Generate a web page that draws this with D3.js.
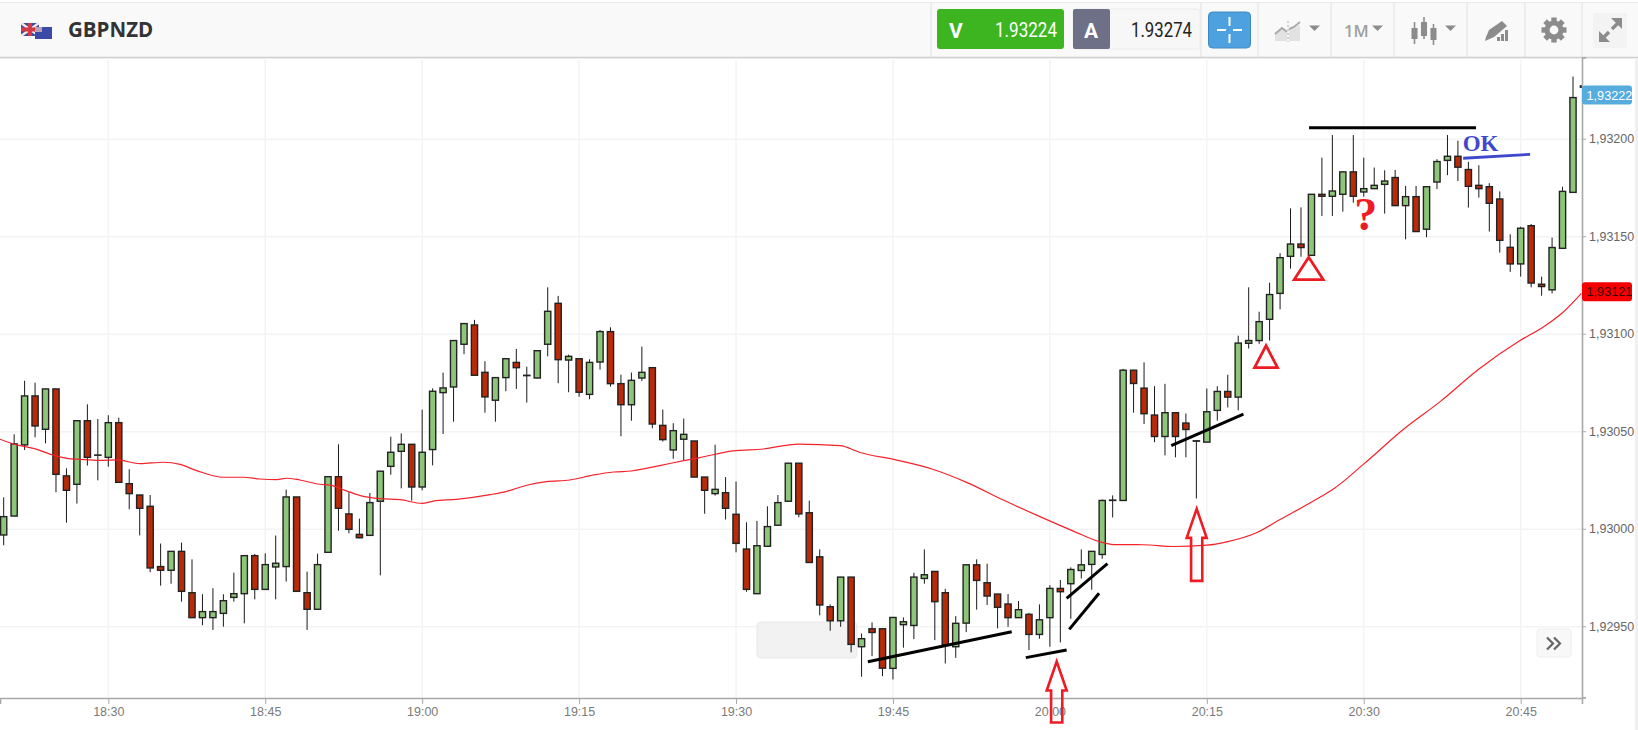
<!DOCTYPE html>
<html>
<head>
<meta charset="utf-8">
<title>GBPNZD</title>
<script src="https://cdn.jsdelivr.net/npm/d3@7"></script>
<style>
    html, body { margin: 0; padding: 0; background: #fff; overflow: hidden; }
    svg { display: block; }
    .axis text { font-family: "Liberation Sans", Arial, sans-serif; font-size: 12.5px; }
    .axis path, .axis line { stroke: #a8a8a8; }
    .axis path { stroke-width: 1.6px; }
    .grid line { stroke: #f3f3f3; stroke-width: 1.4px; }
</style>
</head>
<body>
<div id="chart_parent"></div>
<script>
// prices are in pipettes above 1.00000, so 93200 reads as 1,93200
// one candle per minute, first one is ten minutes before 18:30
const firstMinute = -10;

const opens = [
    92997.1, 93006.8, 93043.3, 93068.4, 93051.3, 93072, 93027.4, 93023.1, 93055.7, 93038,
    93036.9, 93054.7, 93023.4, 93017.6, 93011.8, 92980.9, 92979, 92988.7, 92967.5, 92954.7,
    92954.7, 92956.9, 92965.1, 92967, 92986.5, 92969.2, 92980.7, 92980.9, 93016.6, 92967.5,
    92959, 92988.2, 93027, 93007.9, 92997.4, 92996.9, 93014.4, 93032.3, 93040, 93043.6,
    93021.7, 93040.9, 93070.1, 93073, 93094.9, 93104.8, 93080.5, 93066.2, 93077.8, 93085.6,
    93078.8, 93077.6, 93094.9, 93115.9, 93086.8, 93087.5, 93069.2, 93085.8, 93101.4, 93074.7,
    93063.9, 93077.6, 93082.9, 93053.3, 93040.7, 93046.2, 93045.3, 93026.8, 93018.3, 93018.8,
    93007.7, 92989.9, 92967, 92991.3, 93002.1, 93014.4, 93033.9, 93008.5, 92985.9, 92960.3,
    92953.1, 92975.5, 92939.8, 92949, 92949, 92928.7, 92951.1, 92950.7, 92974.8, 92978.4,
    92967.5, 92939.8, 92951.9, 92981.8, 92972.6, 92966.8, 92961.7, 92954.7, 92956.4, 92946.1,
    92954.7, 92969.7, 92972.1, 92978.9, 92982, 92987.1, 93014.8, 93014.8, 93081.6, 93072.4,
    93058.6, 93047.6, 93059.8, 93054.5, 93045.2, 93044.7, 93061, 93070.7, 93067.8, 93095.4,
    93096.8, 93107.7, 93121, 93140, 93146.3, 93140.5, 93171.8, 93170.8, 93171.8, 93183.3,
    93173, 93174.7, 93176.9, 93180.4, 93166, 93170.6, 93153.9, 93178.1, 93189.2, 93191.3,
    93184.5, 93176.4, 93175.7, 93169.4, 93144.6, 93136.1, 93155.7, 93125.7, 93122.8, 93144.1,
    93172.8, 93226.7,
];

const closes = [
    93006.5, 93043.8, 93068.4, 93053, 93072, 93028.2, 93020, 93055.7, 93036.9, 93038.1,
    93054.7, 93024.1, 93018.3, 93010.8, 92980.2, 92979, 92988.7, 92968.2, 92954.7, 92957.8,
    92957.8, 92963.4, 92967, 92986.5, 92969.2, 92981.9, 92982.6, 93016.6, 92968.2, 92959,
    92981.9, 93027, 93010.8, 93000, 92995.7, 93013.7, 93029.8, 93039.5, 93043.6, 93021.7,
    93039.5, 93070.8, 93072.5, 93096.8, 93105.5, 93079, 93067.9, 93077.8, 93087.5, 93082.9,
    93079, 93091.6, 93111.8, 93087, 93088.7, 93070.3, 93085.6, 93101.4, 93074.7, 93063.9,
    93076.4, 93080.5, 93054, 93046, 93050.6, 93048.7, 93026.8, 93020, 93020.5, 93010.8,
    92992.8, 92969.2, 92991.6, 93001.4, 93013.7, 93033.9, 93007.9, 92983, 92961.2, 92953.1,
    92975.5, 92941, 92943.9, 92947.1, 92928.8, 92954.8, 92952.6, 92975.5, 92976.7, 92962.9,
    92940.6, 92951.8, 92981.8, 92973.8, 92965.8, 92960, 92954.7, 92958.8, 92946.1, 92953.6,
    92969.7, 92968, 92979.4, 92981.8, 92988.7, 93014.8, 93015, 93081.6, 93074.8, 93059.3,
    93047.6, 93059.8, 93047.6, 93051.2, 93045.4, 93060.3, 93070.7, 93067.8, 93095.5, 93096.8,
    93106.5, 93120.4, 93139.3, 93146.3, 93144.5, 93171.8, 93170.8, 93173.5, 93183.3, 93170.8,
    93174.7, 93176.4, 93178.6, 93166, 93170.6, 93152.7, 93175.7, 93188.6, 93191.3, 93185.7,
    93175.9, 93174.7, 93167.2, 93148.2, 93136.1, 93154.4, 93126.3, 93124.5, 93144.5, 93173.3,
    93221.4, 93227.4,
];

const highs = [
    93016.4, 93048.7, 93076.2, 93075.2, 93072, 93072, 93031.3, 93055.7, 93064.1, 93056.6,
    93058.5, 93057.3, 93030.8, 93017.6, 93017.6, 92992.7, 92988.7, 92993.2, 92984.6, 92966.7,
    92969.8, 92966.7, 92977.8, 92986.5, 92987.4, 92987.7, 92996.8, 93020.4, 93016.6, 92978.3,
    92987.5, 93027, 93043.6, 93019, 93005.5, 93018.6, 93029.8, 93047.5, 93049.2, 93043.6,
    93061.4, 93072.3, 93080.4, 93096.8, 93105.5, 93107.4, 93086.2, 93077.8, 93087.5, 93092.5,
    93083.4, 93091.6, 93124.1, 93119.7, 93089.6, 93087.5, 93087.2, 93102.2, 93103.6, 93079.3,
    93080.4, 93093.7, 93082.9, 93061.4, 93054.4, 93056.8, 93045.3, 93026.8, 93043.4, 93026.8,
    93024.5, 93003.6, 93004.3, 93011.8, 93017.6, 93033.9, 93033.9, 93014.7, 92989.7, 92961.5,
    92975.5, 92975.5, 92946.6, 92952.3, 92949, 92954.8, 92954.8, 92977.7, 92989.7, 92978.4,
    92969.5, 92955.5, 92982.2, 92984.6, 92982.4, 92966.8, 92966.8, 92963.2, 92957.2, 92961.5,
    92971.4, 92974, 92980.5, 92989.7, 92988.7, 93015.3, 93017.4, 93082.3, 93081.6, 93085.6,
    93073.4, 93074.6, 93059.8, 93059.4, 93045.4, 93072.2, 93073.4, 93079.3, 93099.3, 93124.1,
    93111.6, 93126.5, 93141.6, 93164.6, 93165.1, 93171.8, 93190.6, 93202.2, 93183.3, 93202.2,
    93190.6, 93185.5, 93184.1, 93184.3, 93176.1, 93176.1, 93175.7, 93189.8, 93202.2, 93199.3,
    93188.4, 93186.7, 93177.5, 93173.3, 93151.3, 93155.2, 93156.6, 93129.6, 93149.6, 93175.7,
    93232.2, 93228.5,
];

const lows = [
    92991.8, 93006.8, 93040.7, 93047.2, 93044.1, 93019, 93003.4, 93013.2, 93032.7, 93025.1,
    93032.1, 93024.1, 93010.3, 92996.9, 92978, 92971.1, 92972.1, 92962.9, 92954.7, 92950.8,
    92948.4, 92950.1, 92962.9, 92951.8, 92964.1, 92969.2, 92964.1, 92973.2, 92968.2, 92948.4,
    92959, 92988.2, 92999.3, 92998, 92995.4, 92996.9, 92976.4, 93028, 93021, 93014.7,
    93020, 93032.8, 93048.9, 93055.2, 93089.8, 93079, 93059.8, 93055.2, 93070.8, 93072,
    93065, 93077.3, 93088.7, 93074.9, 93070.3, 93068, 93066.7, 93081.9, 93073.2, 93047.7,
    93055.7, 93076.1, 93051.8, 93045, 93036.2, 93035.4, 93026.8, 93008, 93017.3, 93005,
    92988.2, 92968, 92967, 92991.3, 93002.1, 93014.4, 93006.2, 92983, 92955.9, 92948,
    92950, 92936.9, 92924.4, 92935, 92924.7, 92923, 92939.3, 92943.7, 92972.1, 92943.2,
    92931.2, 92934.1, 92947.3, 92958.8, 92961.2, 92949.2, 92950, 92954.7, 92938.1, 92943.9,
    92939.8, 92942, 92954.1, 92974.8, 92969, 92984.9, 93006.1, 93014.8, 93059.8, 93054,
    93044.7, 93037.9, 93036.9, 93036.9, 93015.8, 93044.7, 93055.7, 93062.5, 93061, 93092.7,
    93095.1, 93096.8, 93112.8, 93133.7, 93139.8, 93140.5, 93160.7, 93160.7, 93162.9, 93167.5,
    93170.6, 93174.7, 93161.9, 93166, 93148.7, 93152.7, 93149.8, 93174.5, 93181.6, 93178.6,
    93165, 93170.1, 93152.7, 93141.9, 93132, 93129.6, 93124.1, 93119.8, 93121, 93144.1,
    93172.8, 93225,
];

// moving average, minutes after 18:30
const maMinutes = [
    -10.35, -8.76, -7.17, -5.26, -3.98, -2.7, -0.79, 0.8, 3.03, 5.26, 6.86, 8.45, 11, 12.9, 14.5, 16.1, 17.05, 18.3,
    20.2, 21.2, 22.5, 24.1, 25.97, 27.9, 30, 31.07, 33.3, 36.5, 38.1, 40, 41.9, 44.1, 46.4, 48.3, 50, 52.7, 55, 56.55,
    59.7, 62.6, 65.96, 69.94, 71.85, 75.35, 78.86, 82.04, 85.55, 89.05, 92.24, 94.8, 96.07, 98.94, 101.8, 105, 106.9,
    109.8, 112, 115.8, 117.1, 119.96, 123.8, 127.3, 130.95, 134.9, 137.2, 139.1, 140.8,
];
const maValues = [
    93046.2, 93043.3, 93041.5, 93038.1, 93036.4, 93035.9, 93035.4, 93035.6, 93033.7, 93034.4, 93033.3, 93030.1, 93026.7, 93026.7, 93025.8, 93025.5, 93026.2, 93025.3,
    93023.1, 93022.7, 93020.2, 93017.3, 93015.7, 93015.2, 93013.3, 93014.5, 93015.4, 93017.8, 93019.5, 93022.6, 93024.5, 93025.3, 93027.9, 93029.4, 93029.9, 93032.7, 93035.2, 93036.8,
    93040.2, 93041.2, 93043.7, 93042.9, 93039.4, 93035.5, 93030.7, 93024.1, 93015, 93006.5, 92999.1, 92993.6, 92992.2, 92992.1, 92991.2, 92991.9, 92993.6,
    92998.4, 93005, 93016.4, 93020.7, 93033.3, 93051.3, 93065.5, 93082, 93096.7, 93103.9, 93111.6, 93121,
];

const priceTicks = [92950, 93000, 93050, 93100, 93150, 93200];
const timeTicks = [0, 15, 30, 45, 60, 75, 90, 105, 120, 135];

// hand drawn marks: [minute, price, minute, price]
const blackStrokes = [
    [72.6, 92932.1, 86.35, 92947.5],
    [87.7, 92934.2, 91.6, 92938.1],
    [91.6, 92964.6, 95.5, 92982.4],
    [91.85, 92948.7, 94.7, 92967.2],
    [101.6, 93042.9, 108.5, 93059.1],
    [114.77, 93205.9, 130.73, 93205.9],
];
const blueStroke = [129.5, 93190.3, 135.9, 93192.3];
// [minute, price, arrow length in pixels]
const arrowTips = [[90.65, 92932.2, 61], [104.03, 93010.5, 72]];
// [minute, price, half width, height in pixels]
const triangleTips = [[110.66, 93094.2, 11.5, 22], [114.74, 93139.5, 14.5, 22.3]];

const sellPrice = '1.93224';
const buyPrice = '1.93274';
const lastPrice = '1,93222';
const averagePrice = '1,93121';

const chartConfig = {
    outerWidth: 1638,
    outerHeight: 730,
    plotRight: 1582,
    plotTop: 58,
    plotBottom: 698,
    bodyWidth: 6.2,
    upColor: '#8dc579',
    downColor: '#b92b08',
};

const svg = d3.select('#chart_parent').append('svg')
    .attr('width', chartConfig.outerWidth)
    .attr('height', chartConfig.outerHeight);

const xScale = d3.scaleLinear()
    .domain([-10.352, 140.86])
    .range([0, chartConfig.plotRight]);

const yScale = d3.scaleLinear()
    .domain([93241.7, 92913.5])
    .range([chartConfig.plotTop, chartConfig.plotBottom]);

function minuteLabel(m) {
    const total = 18 * 60 + 30 + m;
    return `${Math.floor(total / 60)}:${d3.format('02')(total % 60)}`;
}

function drawGrid() {
    const grid = svg.append('g').attr('class', 'grid');
    grid.selectAll('.v').data(timeTicks).enter().append('line')
        .attr('x1', d => xScale(d))
        .attr('x2', d => xScale(d))
        .attr('y1', chartConfig.plotTop)
        .attr('y2', chartConfig.plotBottom);
    grid.selectAll('.h').data(priceTicks).enter().append('line')
        .attr('x1', 0)
        .attr('x2', chartConfig.plotRight)
        .attr('y1', d => yScale(d))
        .attr('y2', d => yScale(d));

    // leftover tooltip box behind the candles
    svg.append('rect')
        .attr('x', 757).attr('y', 622)
        .attr('width', 100).attr('height', 36)
        .attr('rx', 4)
        .attr('fill', '#f2f2f2')
        .attr('stroke', '#e8e8e8');
}

function drawAxes() {
    const xAxis = d3.axisBottom(xScale)
        .tickValues(timeTicks)
        .tickFormat(minuteLabel)
        .tickSizeOuter(0)
        .tickSize(6)
        .tickPadding(3.5);
    const xGroup = svg.append('g')
        .attr('class', 'axis')
        .attr('transform', `translate(0,${chartConfig.plotBottom})`)
        .call(xAxis);
    xGroup.selectAll('text').attr('fill', '#7a7a7a');

    const yAxis = d3.axisRight(yScale)
        .tickValues(priceTicks)
        .tickFormat(d => `1,${d}`)
        .tickSizeOuter(0)
        .tickSize(4)
        .tickPadding(3);
    const yGroup = svg.append('g')
        .attr('class', 'axis')
        .attr('transform', `translate(${chartConfig.plotRight},-0.6)`)
        .call(yAxis);
    yGroup.selectAll('text').attr('fill', '#666');
}

function drawCandles() {
    const candles = opens.map((open, i) => ({
        minute: firstMinute + i,
        open,
        close: closes[i],
        high: highs[i],
        low: lows[i],
    }));

    svg.append('clipPath').attr('id', 'plot-clip')
        .append('rect')
        .attr('width', chartConfig.plotRight)
        .attr('y', chartConfig.plotTop)
        .attr('height', chartConfig.plotBottom - chartConfig.plotTop);

    const plot = svg.append('g').attr('clip-path', 'url(#plot-clip)');

    plot.selectAll('.wick').data(candles).enter().append('line')
        .attr('class', 'wick')
        .attr('x1', d => xScale(d.minute))
        .attr('x2', d => xScale(d.minute))
        .attr('y1', d => yScale(d.high))
        .attr('y2', d => yScale(d.low))
        .attr('stroke', '#1a1a1a')
        .attr('stroke-width', 1);

    plot.selectAll('.body').data(candles).enter().append('rect')
        .attr('class', 'body')
        .attr('x', d => xScale(d.minute) - chartConfig.bodyWidth / 2)
        .attr('width', chartConfig.bodyWidth)
        .attr('y', d => yScale(Math.max(d.open, d.close)))
        .attr('height', d => Math.abs(yScale(d.open) - yScale(d.close)))
        .attr('fill', d => (d.close >= d.open ? chartConfig.upColor : chartConfig.downColor))
        .attr('stroke', '#222')
        .attr('stroke-width', 1.4);

    const maLine = d3.line()
        .x(d => xScale(d[0]))
        .y(d => yScale(d[1]))
        .curve(d3.curveMonotoneX);

    plot.append('path')
        .datum(maMinutes.map((m, i) => [m, maValues[i]]))
        .attr('d', maLine)
        .attr('fill', 'none')
        .attr('stroke', '#f5222b')
        .attr('stroke-width', 1.2);
}

function drawMarkup() {
    const redInk = '#ed1c24';
    const strokeLine = (s, color, width) => svg.append('line')
        .attr('x1', xScale(s[0])).attr('y1', yScale(s[1]))
        .attr('x2', xScale(s[2])).attr('y2', yScale(s[3]))
        .attr('stroke', color)
        .attr('stroke-width', width);

    blackStrokes.forEach(s => strokeLine(s, '#000', 3));
    strokeLine(blueStroke, '#3f48cc', 2.8);

    // outlined up arrows
    arrowTips.forEach(([m, p, len]) => {
        const x0 = xScale(m);
        const y0 = yScale(p);
        const pts = [[0, 0], [-10, 29], [-5.6, 29], [-5.6, len], [5.6, len], [5.6, 29], [10, 29]];
        svg.append('polygon')
            .attr('points', pts.map(q => `${x0 + q[0]},${y0 + q[1]}`).join(' '))
            .attr('fill', 'none')
            .attr('stroke', redInk)
            .attr('stroke-width', 2.6);
    });

    triangleTips.forEach(([m, p, half, tall]) => {
        const x0 = xScale(m);
        const y0 = yScale(p);
        svg.append('polygon')
            .attr('points', `${x0},${y0} ${x0 - half},${y0 + tall} ${x0 + half},${y0 + tall}`)
            .attr('fill', 'none')
            .attr('stroke', redInk)
            .attr('stroke-width', 2.8);
    });

    svg.append('text')
        .attr('x', xScale(120.2)).attr('y', yScale(93153.5))
        .attr('text-anchor', 'middle')
        .attr('font-family', '"Liberation Serif", serif')
        .attr('font-weight', 'bold')
        .attr('font-size', 46)
        .attr('fill', redInk)
        .text('?');

    svg.append('text')
        .attr('x', xScale(129.45)).attr('y', yScale(93194.2))
        .attr('font-family', '"Liberation Serif", serif')
        .attr('font-weight', 'bold')
        .attr('font-size', 23)
        .attr('fill', '#3f48cc')
        .text('OK');
}

function priceTag(price, label, fill, textFill) {
    const yMid = yScale(price) - 1.5;
    svg.append('rect')
        .attr('x', chartConfig.plotRight).attr('y', yMid - 9.5)
        .attr('width', 50).attr('height', 19)
        .attr('rx', 3)
        .attr('fill', fill);
    svg.append('text')
        .attr('x', chartConfig.plotRight + 4.5).attr('y', yMid + 4.6)
        .attr('font-family', '"Liberation Sans", Arial, sans-serif')
        .attr('font-size', 12.7)
        .attr('fill', textFill)
        .text(label);
}

function drawHeader() {
    const header = svg.append('g');
    const gray = '#8c8c8c';
    const uiFont = 'Roboto, sans-serif';

    header.append('rect').attr('width', 1638).attr('height', 57).attr('y', 2).attr('fill', '#f9f9f9');
    header.append('line').attr('x1', 0).attr('x2', 1638).attr('y1', 57.5).attr('y2', 57.5)
        .attr('stroke', '#cfcfcf').attr('stroke-width', 1.6);
    header.append('line').attr('x1', 0).attr('x2', 1638).attr('y1', 2.5).attr('y2', 2.5)
        .attr('stroke', '#ececec');

    [931, 1201, 1258, 1331, 1394, 1467, 1525, 1582].forEach(x => {
        header.append('line').attr('x1', x).attr('x2', x).attr('y1', 3).attr('y2', 57)
            .attr('stroke', '#e0e0e0');
    });

    // flags
    header.append('rect').attr('x', 21).attr('y', 23).attr('width', 18).attr('height', 13).attr('fill', '#3a4f9c');
    [[21, 23, 39, 36], [39, 23, 21, 36]].forEach(s => {
        header.append('line').attr('x1', s[0]).attr('y1', s[1]).attr('x2', s[2]).attr('y2', s[3])
            .attr('stroke', '#f0e8ea').attr('stroke-width', 2.5);
    });
    header.append('rect').attr('x', 28).attr('y', 23).attr('width', 4).attr('height', 13).attr('fill', '#d33a48');
    header.append('rect').attr('x', 21).attr('y', 27.5).attr('width', 18).attr('height', 4).attr('fill', '#d33a48');
    header.append('rect').attr('x', 35).attr('y', 27).attr('width', 17).attr('height', 12).attr('fill', '#3b4aa6');
    header.append('rect').attr('x', 35).attr('y', 27).attr('width', 7).attr('height', 5).attr('fill', '#b9a0b8');

    header.append('text').attr('x', 68).attr('y', 37)
        .attr('font-family', '"Open Sans", sans-serif')
        .attr('font-weight', 'bold')
        .attr('font-size', 20.5)
        .attr('fill', '#333')
        .text('GBPNZD');

    // sell box
    header.append('rect').attr('x', 937).attr('y', 9).attr('width', 127).attr('height', 40).attr('rx', 3).attr('fill', '#3cb521');
    header.append('text').attr('x', 949).attr('y', 38).attr('font-family', uiFont).attr('font-weight', 'bold')
        .attr('font-size', 21).attr('fill', '#fff').text('V');
    header.append('text').attr('x', 995).attr('y', 37).attr('font-family', uiFont).attr('font-size', 21)
        .attr('textLength', 62).attr('lengthAdjust', 'spacingAndGlyphs').attr('fill', '#fff').text(sellPrice);

    // buy box
    header.append('rect').attr('x', 1073).attr('y', 9).attr('width', 127).attr('height', 40).attr('rx', 3)
        .attr('fill', '#f7f7f7').attr('stroke', '#ececec');
    header.append('rect').attr('x', 1073).attr('y', 9).attr('width', 37).attr('height', 40).attr('rx', 2).attr('fill', '#6d7086');
    header.append('text').attr('x', 1084).attr('y', 38).attr('font-family', uiFont).attr('font-weight', 'bold')
        .attr('font-size', 21).attr('fill', '#fff').text('A');
    header.append('text').attr('x', 1131).attr('y', 37).attr('font-family', uiFont).attr('font-size', 21)
        .attr('textLength', 61).attr('lengthAdjust', 'spacingAndGlyphs').attr('fill', '#222').text(buyPrice);

    // crosshair button
    header.append('rect').attr('x', 1208.5).attr('y', 12).attr('width', 42).attr('height', 36).attr('rx', 4)
        .attr('fill', '#4ea1df').attr('stroke', '#3f8ac4');
    [[1217, 30, 1226, 30], [1233, 30, 1242, 30], [1229.5, 17, 1229.5, 26], [1229.5, 34, 1229.5, 43]].forEach(s => {
        header.append('line').attr('x1', s[0]).attr('y1', s[1]).attr('x2', s[2]).attr('y2', s[3])
            .attr('stroke', '#fff').attr('stroke-width', 2);
    });

    // chart type icon
    header.append('path').attr('d', 'M1275 41V33L1282 29L1287 33V41Z').attr('fill', '#e2e2e2');
    header.append('path').attr('d', 'M1289 41V29L1294 28L1300 25V41Z').attr('fill', '#e2e2e2');
    header.append('path').attr('d', 'M1275 34L1282 28L1287 32').attr('fill', 'none').attr('stroke', '#aaa').attr('stroke-width', 2);
    header.append('path').attr('d', 'M1289 29L1294 27L1300 22').attr('fill', 'none').attr('stroke', '#aaa').attr('stroke-width', 2);
    header.append('line').attr('x1', 1288).attr('x2', 1288).attr('y1', 21).attr('y2', 42)
        .attr('stroke', '#aaa').attr('stroke-dasharray', '2,2');

    // dropdown carets
    [[1309, 1320], [1372, 1383], [1445, 1456]].forEach(c => {
        header.append('path')
            .attr('d', `M${c[0]} 25.5H${c[1]}L${(c[0] + c[1]) / 2} 31Z`)
            .attr('fill', gray);
    });

    header.append('text').attr('x', 1344).attr('y', 37).attr('font-family', '"Open Sans", sans-serif')
        .attr('font-weight', 600).attr('font-size', 16.5).attr('fill', '#a0a0a0').text('1M');

    // candles icon
    [[1414.5, 22, 44, 28, 39], [1424, 17, 39, 22, 36], [1433.5, 24, 45, 28, 40]].forEach(c => {
        header.append('line').attr('x1', c[0]).attr('x2', c[0]).attr('y1', c[1]).attr('y2', c[2])
            .attr('stroke', gray).attr('stroke-width', 1.6);
        header.append('rect').attr('x', c[0] - 3).attr('width', 6).attr('y', c[3]).attr('height', c[4] - c[3])
            .attr('fill', gray);
    });

    // drawing tools icon
    header.append('path').attr('d', 'M1486 37L1489 30L1502 21L1507 26L1494 37L1485 41Z').attr('fill', gray);
    [[1497, 37, 3], [1501, 34, 3], [1505, 30, 3]].forEach(b => {
        header.append('rect').attr('x', b[0]).attr('y', b[1]).attr('width', b[2]).attr('height', 41 - b[1]).attr('fill', gray);
    });

    // settings gear
    const gear = header.append('g').attr('transform', 'translate(1554,30)');
    d3.range(8).forEach(i => {
        gear.append('rect').attr('x', -2.7).attr('y', -12.5).attr('width', 5.4).attr('height', 6)
            .attr('fill', gray).attr('transform', `rotate(${i * 45})`);
    });
    gear.append('circle').attr('r', 7).attr('fill', 'none').attr('stroke', gray).attr('stroke-width', 5.2);

    // fullscreen button
    header.append('rect').attr('x', 1593).attr('y', 13).attr('width', 34).attr('height', 35).attr('fill', '#f3f3f3');
    header.append('path').attr('d', 'M1602 39L1609 32M1619 22L1612 29').attr('stroke', gray).attr('stroke-width', 3.4).attr('fill', 'none');
    header.append('path').attr('d', 'M1599 31V42H1610Z').attr('fill', gray);
    header.append('path').attr('d', 'M1622 18V29L1611 18Z').attr('fill', gray);
}

function drawScrollButton() {
    svg.append('rect')
        .attr('x', 1537).attr('y', 629)
        .attr('width', 34).attr('height', 28)
        .attr('rx', 3)
        .attr('fill', '#f8f8f8')
        .attr('stroke', '#eee');
    svg.append('path')
        .attr('d', 'M1547 637.5L1553 643.5L1547 649.5M1554 637.5L1560 643.5L1554 649.5')
        .attr('fill', 'none')
        .attr('stroke', '#666')
        .attr('stroke-width', 2.2);
}

drawHeader();
drawGrid();
drawCandles();
drawAxes();
drawScrollButton();
drawMarkup();
priceTag(93222, lastPrice, '#55acdd', '#fff');
priceTag(93121, averagePrice, '#f50000', '#400');

// right edge of the panel is slightly shaded
svg.append('rect').attr('x', 1635).attr('y', 58).attr('width', 3).attr('height', 672).attr('fill', '#f0f0f0');
</script>
</body>
</html>
